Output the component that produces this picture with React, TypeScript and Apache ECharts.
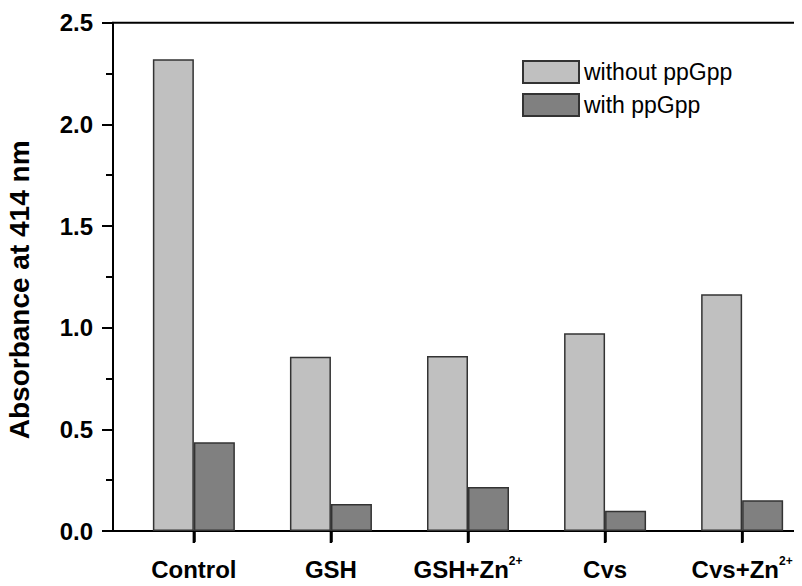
import React, { useEffect, useRef } from "react";
import * as echarts from "echarts";

const categories = ["{b|Control}", "{b|GSH}", "{b|GSH+Zn}{sup|2+}", "{b|Cys}", "{b|Cys+Zn}{sup|2+}"];
const positions = [1, 2, 3, 4, 5];
const withoutPpGpp = [2.32, 0.857, 0.861, 0.973, 1.165];
const withPpGpp = [0.436, 0.133, 0.216, 0.1, 0.151];
const seriesNames = ["without ppGpp", "with ppGpp"];

export default function App() {
  const ref = useRef<HTMLDivElement>(null);
  useEffect(() => {
    if (!ref.current) return;
    const chart = echarts.init(ref.current, null, { renderer: "svg" });
    const font = "'Liberation Sans', Arial, sans-serif";
    chart.setOption({
      animation: false,
      backgroundColor: "#fff",
      textStyle: { fontFamily: font },
      grid: {
        left: 113,
        top: 22.7,
        bottom: 55,
        right: -21,
        show: true,
        borderColor: "#000",
        borderWidth: 2,
        outerBoundsMode: "none",
        containLabel: false,
      },
      legend: {
        orient: "vertical",
        left: 522,
        top: 60,
        padding: 0,
        itemWidth: 56,
        itemHeight: 22,
        itemGap: 9,
        icon: "rect",
        textStyle: { fontSize: 23, color: "#000", fontFamily: font },
        data: seriesNames,
      },
      xAxis: {
        type: "value",
        min: 0.41,
        max: 5.59,
        splitLine: { show: false },
        axisLine: { show: true, lineStyle: { color: "#000", width: 2 } },
        axisTick: {
          show: true,
          inside: false,
          customValues: positions,
          length: 11,
          lineStyle: { color: "#000", width: 2.5 },
        },
        axisLabel: {
          customValues: positions,
          margin: 24,
          color: "#000",
          fontFamily: font,
          formatter: (v: number) => categories[Math.round(v) - 1] ?? "",
          rich: {
            b: {
              fontSize: 24,
              lineHeight: 28,
              fontWeight: "bold",
              color: "#000",
              fontFamily: font,
            },
            sup: {
              fontSize: 12,
              lineHeight: 12,
              fontWeight: "bold",
              color: "#000",
              fontFamily: font,
              verticalAlign: "top",
            },
          },
        },
      },
      yAxis: {
        type: "value",
        min: 0,
        max: 2.5,
        interval: 0.5,
        name: "Absorbance at 414 nm",
        nameLocation: "middle",
        nameRotate: 90,
        nameGap: 80,
        nameTextStyle: {
          fontSize: 28,
          fontWeight: "bold",
          color: "#000",
          fontFamily: font,
          padding: [0, 26, 0, 0],
        },
        splitLine: { show: false },
        axisLine: { show: true, lineStyle: { color: "#000", width: 2 } },
        axisTick: { show: true, length: 11, lineStyle: { color: "#000", width: 2 } },
        minorTick: { show: true, splitNumber: 2, length: 7, lineStyle: { color: "#000", width: 2 } },
        axisLabel: {
          margin: 20,
          color: "#000",
          fontSize: 24,
          fontWeight: "bold",
          fontFamily: font,
          formatter: (v: number) => v.toFixed(1),
        },
      },
      series: [
        {
          name: seriesNames[0],
          type: "bar",
          barWidth: 41,
          barGap: "0%",
          data: positions.map((p, i) => [p, withoutPpGpp[i]]),
          itemStyle: { color: "#c0c0c0", borderColor: "#333", borderWidth: 1.5 },
        },
        {
          name: seriesNames[1],
          type: "bar",
          barWidth: 41,
          barGap: "0%",
          data: positions.map((p, i) => [p, withPpGpp[i]]),
          itemStyle: { color: "#808080", borderColor: "#333", borderWidth: 1.5 },
        },
        {
          name: "ticks",
          type: "custom",
          silent: true,
          clip: false,
          z: 10,
          data: positions.map((p) => [p, 0]),
          renderItem: (_params: any, api: any) => {
            const pt = api.coord([api.value(0), api.value(1)]);
            return {
              type: "line",
              shape: { x1: pt[0], y1: pt[1], x2: pt[0], y2: pt[1] + 12 },
              style: { stroke: "#000", lineWidth: 2.5 },
            };
          },
        },
      ],
    });
    return () => chart.dispose();
  }, []);
  return <div ref={ref} style={{ width: 802, height: 586, margin: -8 }} />;
}
